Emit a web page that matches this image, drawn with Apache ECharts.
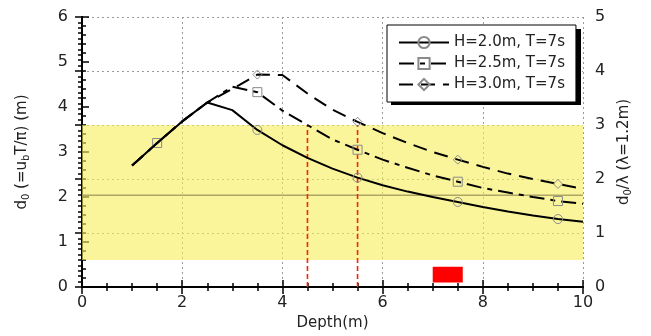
<!DOCTYPE html>
<html>
<head>
<meta charset="utf-8">
<script src="https://cdn.jsdelivr.net/npm/echarts@6/dist/echarts.min.js"></script>
<style>
  html, body { margin: 0; padding: 0; background: #fff; }
  #chart { width: 651px; height: 336px; }
</style>
</head>
<body>
<div id="chart"></div>
<script>
// depth (m) along the bottom axis
const depth = [1, 1.5, 2, 2.5, 3, 3.5, 4, 4.5, 5, 5.5, 6, 6.5, 7, 7.5, 8, 8.5, 9, 9.5, 10];

// d0 values (m)
const h20 = [2.7, 3.2, 3.68, 4.1, 3.93, 3.49, 3.15, 2.87, 2.63, 2.43, 2.26, 2.12, 2.0, 1.89, 1.78, 1.68, 1.59, 1.51, 1.45];
const h25 = [2.7, 3.2, 3.68, 4.1, 4.45, 4.33, 3.92, 3.6, 3.28, 3.05, 2.83, 2.65, 2.48, 2.34, 2.2, 2.1, 2.0, 1.91, 1.85];
const h30 = [2.7, 3.2, 3.68, 4.1, 4.4, 4.72, 4.71, 4.3, 3.94, 3.67, 3.42, 3.2, 3.0, 2.83, 2.67, 2.52, 2.4, 2.29, 2.18];

// depths where a marker is drawn
const marks20 = [3.5, 5.5, 7.5, 9.5];
const marks25 = [1.5, 3.5, 5.5, 7.5, 9.5];
const marks30 = [3.5, 5.5, 7.5, 9.5];

const seriesNames = ['H=2.0m, T=7s', 'H=2.5m, T=7s', 'H=3.0m, T=7s'];

// shaded band, reference line, red verticals and red block
const bandRange = [0.6, 3.6];
const refLevel = 2.04;
const redLinesX = [4.5, 5.5];
const redLineTop = 3.6;
const redBlock = { x: [7.0, 7.6], y: [0.1, 0.45] };

const leftTicks = { min: 0, max: 6, interval: 1 };
const rightTicks = { min: 0, max: 5, interval: 1 };
const xTicks = { min: 0, max: 10, interval: 2 };

const FONT = 'DejaVu Sans';

function buildData(values, marks, sym) {
    return depth.map((d, i) => ({
        value: [d, values[i]],
        symbol: marks.includes(d) ? sym : 'none'
    }));
}

const markerStyle = { color: 'transparent', borderColor: '#8a8a8a', borderWidth: 1 };

// legend box placement (box + hard shadow)
const legendBox = { left: 387, top: 25, width: 190, height: 76 };

const chartDom = document.getElementById('chart');
const chart = echarts.init(chartDom);

// helper series: plain straight segments (reference line, red verticals)
function segment(points, color, width, type, z) {
    return {
        type: 'line',
        z: z,
        silent: true,
        symbol: 'none',
        lineStyle: { color: color, width: width, type: type },
        data: points
    };
}

const option = {
    animation: false,
    textStyle: { fontFamily: FONT },
    grid: { left: 82, right: 68, top: 17, bottom: 49 },
    graphic: [
        {
            type: 'rect',
            z: 3,
            left: legendBox.left + 4,
            top: legendBox.top + 4,
            shape: { width: legendBox.width, height: legendBox.height },
            style: { fill: '#000' }
        }
    ],
    legend: {
        orient: 'vertical',
        left: legendBox.left,
        top: legendBox.top,
        z: 5,
        padding: [10, 11, 10, 11],
        itemGap: 6,
        itemWidth: 50,
        itemHeight: 14,
        backgroundColor: '#fff',
        borderColor: '#000',
        borderWidth: 1,
        borderRadius: 0,
        textStyle: { fontFamily: FONT, fontSize: 15, color: '#222' },
        data: seriesNames
    },
    xAxis: [
        {
            type: 'value',
            position: 'bottom',
            min: xTicks.min, max: xTicks.max, interval: xTicks.interval,
            name: 'Depth(m)',
            nameLocation: 'middle',
            nameGap: 29,
            nameTextStyle: { fontFamily: FONT, fontSize: 15, color: '#222' },
            axisLine: { lineStyle: { color: '#000', width: 2 } },
            axisTick: { inside: true, length: 7, lineStyle: { color: '#000', width: 1.5 } },
            minorTick: { show: true, splitNumber: 4, length: 4, lineStyle: { color: '#000', width: 1.5 } },
            axisLabel: { fontFamily: FONT, fontSize: 16, color: '#222', margin: 8 },
            splitLine: { show: true, lineStyle: { color: '#999', type: [2, 3], width: 1 } }
        },
        {
            type: 'value',
            position: 'top',
            min: xTicks.min, max: xTicks.max, interval: xTicks.interval,
            axisLine: { lineStyle: { color: '#000', width: 2 } },
            axisTick: { inside: true, length: 7, lineStyle: { color: '#000', width: 1.5 } },
            minorTick: { show: true, splitNumber: 4, length: 4, lineStyle: { color: '#000', width: 1.5 } },
            axisLabel: { show: false },
            splitLine: { show: false }
        }
    ],
    yAxis: [
        {
            type: 'value',
            position: 'left',
            min: leftTicks.min, max: leftTicks.max, interval: leftTicks.interval,
            name: 'd{sub|0} (=u{sub|b}T/π) (m)',
            nameLocation: 'middle',
            nameRotate: 90,
            nameGap: 51,
            nameTextStyle: {
                fontFamily: FONT, fontSize: 15, color: '#222',
                rich: { sub: { fontFamily: FONT, fontSize: 10, color: '#222', verticalAlign: 'bottom', padding: [8, 0, 0, 0] } }
            },
            axisLine: { lineStyle: { color: '#000', width: 2 } },
            axisTick: { inside: true, length: 7, lineStyle: { color: '#000', width: 1.5 } },
            minorTick: { show: true, splitNumber: 5, length: 4, lineStyle: { color: '#000', width: 1.5 } },
            axisLabel: { fontFamily: FONT, fontSize: 16, color: '#222', margin: 14 },
            splitLine: { show: false }
        },
        {
            type: 'value',
            position: 'right',
            min: rightTicks.min, max: rightTicks.max, interval: rightTicks.interval,
            name: 'd{sub|0}/λ (λ=1.2m)',
            nameLocation: 'middle',
            nameRotate: 90,
            nameGap: 32,
            nameTextStyle: {
                fontFamily: FONT, fontSize: 15, color: '#222',
                rich: { sub: { fontFamily: FONT, fontSize: 10, color: '#222', verticalAlign: 'bottom', padding: [8, 0, 0, 0] } }
            },
            axisLine: { show: true, lineStyle: { color: '#000', width: 2 } },
            axisTick: { inside: true, length: 7, lineStyle: { color: '#000', width: 1.5 } },
            minorTick: { show: true, splitNumber: 10, length: 4, lineStyle: { color: '#000', width: 1.5 } },
            axisLabel: { fontFamily: FONT, fontSize: 16, color: '#222', margin: 12 },
            splitLine: { show: true, lineStyle: { color: '#999', type: [2, 3], width: 1 } }
        }
    ],
    series: [
        {
            name: seriesNames[0],
            type: 'line',
            z: 5,
            symbol: 'circle',
            symbolSize: 9,
            showAllSymbol: true,
            itemStyle: markerStyle,
            lineStyle: { color: '#000', width: 2, type: 'solid' },
            data: buildData(h20, marks20, 'circle'),
            markArea: {
                silent: true,
                z: 1,
                data: [
                    [
                        { coord: [xTicks.min, bandRange[0]], itemStyle: { color: 'rgba(247,238,88,0.6)' } },
                        { coord: [xTicks.max, bandRange[1]] }
                    ],
                    [
                        { coord: [redBlock.x[0], redBlock.y[0]], itemStyle: { color: '#ff0000', opacity: 1 } },
                        { coord: [redBlock.x[1], redBlock.y[1]] }
                    ]
                ]
            }
        },
        {
            name: seriesNames[1],
            type: 'line',
            z: 4,
            symbol: 'rect',
            symbolSize: 9,
            showAllSymbol: true,
            itemStyle: markerStyle,
            lineStyle: { color: '#000', width: 2, type: [15, 6, 5, 6] },
            data: buildData(h25, marks25, 'rect')
        },
        {
            name: seriesNames[2],
            type: 'line',
            z: 4,
            symbol: 'diamond',
            symbolSize: 9,
            showAllSymbol: true,
            itemStyle: markerStyle,
            lineStyle: { color: '#000', width: 2, type: [14, 8] },
            data: buildData(h30, marks30, 'diamond')
        },
        segment([[xTicks.min, refLevel], [xTicks.max, refLevel]], '#aea664', 1.5, 'solid', 3),
        ...redLinesX.map(x => segment([[x, 0], [x, redLineTop]], '#ff2200', 1.6, [5, 3], 3))
    ]
};

chart.setOption(option);

window.addEventListener('resize', function() {
    chart.resize();
});
</script>
</body>
</html>
